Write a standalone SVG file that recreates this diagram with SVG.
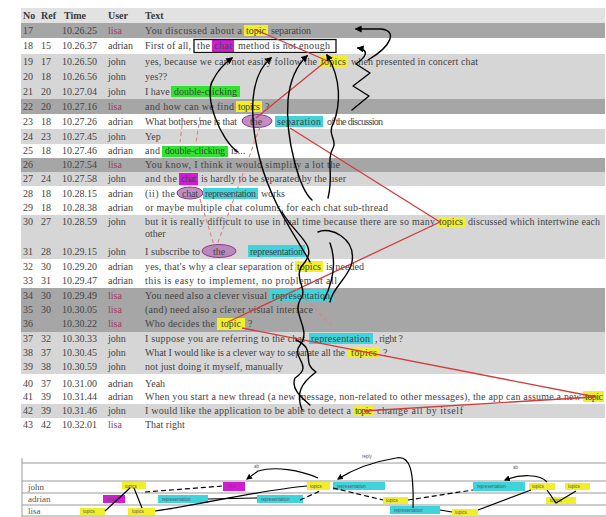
<svg xmlns="http://www.w3.org/2000/svg" width="606" height="517" viewBox="0 0 606 517">
<defs>
<marker id="ah" viewBox="0 0 10 10" refX="8" refY="5" markerWidth="5" markerHeight="5" orient="auto"><path d="M0,0 L10,5 L0,10 z" fill="#000"/></marker>
<style>
.t{font-family:"Liberation Serif",serif;font-size:10px;fill:#444}
.h{font-family:"Liberation Serif",serif;font-size:10px;font-weight:bold;fill:#3a3a3a}
.lisa{fill:#a04060}
.dk{fill:#a6a6a6}.lt{fill:#d6d6d6}.wh{fill:#fff}
.y{fill:#f2ee2a}.m{fill:#d21cd2}.c{fill:#3fd4dc}.g{fill:#2ee42e}
.el{fill:#b77ab7;stroke:#8a3a8a;stroke-width:1;fill-opacity:.85}
.blk{fill:none;stroke:#000;stroke-width:1.4;stroke-linecap:round;stroke-linejoin:round}
.red{fill:none;stroke:#d23c3c;stroke-width:1.3}
.pd{fill:none;stroke:#e08080;stroke-width:1.1;stroke-dasharray:4 3}
.ln{stroke:#9a9a9a;stroke-width:1}
.lab{font-family:"Liberation Serif",serif;font-size:9px;fill:#555}
.tiny{font-family:"Liberation Sans",sans-serif;font-size:4.5px;fill:#556}
.cl{fill:none;stroke:#000;stroke-width:1.2}
.cd{fill:none;stroke:#000;stroke-width:1.2;stroke-dasharray:5 3}
</style>
</defs>
<rect width="606" height="517" fill="#fff"/>
<g id="table">
<rect x="21" y="8" width="584" height="15" fill="#e2e2e2"/>
<text class="h" x="23" y="19">No</text><text class="h" x="41" y="19">Ref</text><text class="h" x="64" y="19">Time</text><text class="h" x="108" y="19">User</text><text class="h" x="145" y="19">Text</text>
</g>
<g id="rows">
<g id="msg-17"><rect class="dk" x="21" y="23" width="584" height="15"/><text class="t" y="34"><tspan x="23">17</tspan><tspan x="62">10.26.25</tspan><tspan x="108" class="lisa">lisa</tspan></text><rect class="y" x="244" y="25" width="24" height="11"/><text class="t" y="34"><tspan x="145" textLength="97" lengthAdjust="spacing">You discussed about a</tspan><tspan x="246" textLength="20" lengthAdjust="spacing">topic</tspan><tspan x="271" textLength="40" lengthAdjust="spacing">separation</tspan></text></g>
<g id="msg-18"><rect class="wh" x="21" y="38" width="584" height="16"/><text class="t" y="49"><tspan x="23">18</tspan><tspan x="41">15</tspan><tspan x="62">10.26.37</tspan><tspan x="108">adrian</tspan></text><rect class="m" x="212" y="40" width="22" height="12"/><text class="t" y="49"><tspan x="145" textLength="46" lengthAdjust="spacing">First of all,</tspan><tspan x="197" textLength="13" lengthAdjust="spacing">the</tspan><tspan x="214" textLength="18" lengthAdjust="spacing">chat</tspan><tspan x="238" textLength="92" lengthAdjust="spacing">method is not enough</tspan></text><rect x="194" y="39.5" width="142" height="13" fill="none" stroke="#111" stroke-width="1.3"/></g>
<g id="msg-19"><rect class="lt" x="21" y="54" width="584" height="15"/><text class="t" y="65"><tspan x="23">19</tspan><tspan x="41">17</tspan><tspan x="62">10.26.50</tspan><tspan x="108">john</tspan></text><rect class="y" x="319" y="56" width="29" height="12"/><text class="t" y="65"><tspan x="145" textLength="172" lengthAdjust="spacing">yes, because we can not easily follow the</tspan><tspan x="321" textLength="25" lengthAdjust="spacing">topics</tspan><tspan x="351" textLength="127" lengthAdjust="spacing">when presented in concert chat</tspan></text></g>
<g id="msg-20"><rect class="lt" x="21" y="69" width="584" height="15"/><text class="t" y="80"><tspan x="23">20</tspan><tspan x="41">18</tspan><tspan x="62">10.26.56</tspan><tspan x="108">john</tspan><tspan x="145">yes??</tspan></text></g>
<g id="msg-21"><rect class="lt" x="21" y="84" width="584" height="15"/><text class="t" y="95"><tspan x="23">21</tspan><tspan x="41">20</tspan><tspan x="62">10.27.04</tspan><tspan x="108">john</tspan></text><rect class="g" x="171" y="86" width="69" height="11"/><text class="t" y="95"><tspan x="145">I have</tspan><tspan x="174" textLength="63" lengthAdjust="spacing">double-clicking</tspan></text></g>
<g id="msg-22"><rect class="dk" x="21" y="99" width="584" height="15"/><text class="t" y="110"><tspan x="23">22</tspan><tspan x="41">20</tspan><tspan x="62">10.27.16</tspan><tspan x="108" class="lisa">lisa</tspan></text><rect class="y" x="236" y="101" width="26" height="11"/><text class="t" y="110"><tspan x="145" textLength="89" lengthAdjust="spacing">and how can we find</tspan><tspan x="238" textLength="22" lengthAdjust="spacing">topics</tspan><tspan x="265">?</tspan></text></g>
<g id="msg-23"><rect class="wh" x="21" y="114" width="584" height="15"/><text class="t" y="125"><tspan x="23">23</tspan><tspan x="41">18</tspan><tspan x="62">10.27.26</tspan><tspan x="108">adrian</tspan></text><ellipse class="el" cx="257" cy="121" rx="15" ry="6.5"/><rect class="c" x="275" y="116" width="48" height="11"/><text class="t" y="125"><tspan x="145" textLength="92" lengthAdjust="spacing">What bothers me is that</tspan><tspan x="250">the</tspan><tspan x="277" textLength="44" lengthAdjust="spacing">separation</tspan><tspan x="327" textLength="56" lengthAdjust="spacing">of the discussion</tspan></text></g>
<g id="msg-24"><rect class="lt" x="21" y="129" width="584" height="15"/><text class="t" y="140"><tspan x="23">24</tspan><tspan x="41">23</tspan><tspan x="62">10.27.45</tspan><tspan x="108">john</tspan><tspan x="145">Yep</tspan></text></g>
<g id="msg-25"><rect class="wh" x="21" y="144" width="584" height="14"/><text class="t" y="154"><tspan x="23">25</tspan><tspan x="41">18</tspan><tspan x="62">10.27.46</tspan><tspan x="108">adrian</tspan></text><rect class="g" x="162" y="146" width="66" height="11"/><text class="t" y="154"><tspan x="145" textLength="15" lengthAdjust="spacing">and</tspan><tspan x="165" textLength="60" lengthAdjust="spacing">double-clicking</tspan><tspan x="231">is...</tspan></text></g>
<g id="msg-26"><rect class="dk" x="21" y="158" width="584" height="14"/><text class="t" y="168"><tspan x="23">26</tspan><tspan x="62">10.27.54</tspan><tspan x="108" class="lisa">lisa</tspan><tspan x="145" textLength="195" lengthAdjust="spacing">You know, I think it would simplify a lot the</tspan></text></g>
<g id="msg-27"><rect class="lt" x="21" y="172" width="584" height="14"/><text class="t" y="182"><tspan x="23">27</tspan><tspan x="41">24</tspan><tspan x="62">10.27.58</tspan><tspan x="108">john</tspan></text><rect class="m" x="179" y="173" width="19" height="12"/><text class="t" y="182"><tspan x="145" textLength="32" lengthAdjust="spacing">and the</tspan><tspan x="181" textLength="15" lengthAdjust="spacing">chat</tspan><tspan x="201" textLength="145" lengthAdjust="spacing">is hardly to be separated by the user</tspan></text></g>
<g id="msg-28"><rect class="wh" x="21" y="186" width="584" height="15"/><text class="t" y="197"><tspan x="23">28</tspan><tspan x="41">18</tspan><tspan x="62">10.28.15</tspan><tspan x="108">adrian</tspan></text><ellipse class="el" cx="190" cy="193" rx="13" ry="6"/><rect class="c" x="203" y="188" width="55" height="11"/><text class="t" y="197"><tspan x="145" textLength="30" lengthAdjust="spacing">(ii) the</tspan><tspan x="182" textLength="16" lengthAdjust="spacing">chat</tspan><tspan x="205" textLength="51" lengthAdjust="spacing">representation</tspan><tspan x="261" textLength="24" lengthAdjust="spacing">works</tspan></text></g>
<g id="msg-29"><rect class="wh" x="21" y="201" width="584" height="14"/><text class="t" y="211"><tspan x="23">29</tspan><tspan x="41">18</tspan><tspan x="62">10.28.38</tspan><tspan x="108">adrian</tspan><tspan x="145" textLength="243" lengthAdjust="spacing">or maybe multiple chat columns, for each chat sub-thread</tspan></text></g>
<g id="msg-30"><rect class="lt" x="21" y="215" width="584" height="27"/><text class="t" y="225"><tspan x="23">30</tspan><tspan x="41">27</tspan><tspan x="62">10.28.59</tspan><tspan x="108">john</tspan></text><rect class="y" x="437" y="217" width="28" height="11"/><text class="t" y="225"><tspan x="145" textLength="290" lengthAdjust="spacing">but it is really difficult to use in real time because there are so many</tspan><tspan x="439" textLength="24" lengthAdjust="spacing">topics</tspan><tspan x="468" textLength="132" lengthAdjust="spacing">discussed which intertwine each</tspan><tspan x="145" y="237">other</tspan></text></g>
<g id="msg-31"><rect class="lt" x="21" y="242" width="584" height="17"/><text class="t" y="255"><tspan x="23">31</tspan><tspan x="41">28</tspan><tspan x="62">10.29.15</tspan><tspan x="108">john</tspan></text><ellipse class="el" cx="219" cy="251" rx="17" ry="6.5"/><rect class="c" x="248" y="245" width="57" height="12"/><text class="t" y="255"><tspan x="145" textLength="55" lengthAdjust="spacing">I subscribe to</tspan><tspan x="213">the</tspan><tspan x="250" textLength="53" lengthAdjust="spacing">representation</tspan></text></g>
<g id="msg-32"><rect class="wh" x="21" y="259" width="584" height="15"/><text class="t" y="270"><tspan x="23">32</tspan><tspan x="41">30</tspan><tspan x="62">10.29.20</tspan><tspan x="108">adrian</tspan></text><rect class="y" x="295" y="261" width="28" height="11"/><text class="t" y="270"><tspan x="145" textLength="148" lengthAdjust="spacing">yes, that's why a clear separation of</tspan><tspan x="297" textLength="24" lengthAdjust="spacing">topics</tspan><tspan x="326" textLength="38" lengthAdjust="spacing">is needed</tspan></text></g>
<g id="msg-33"><rect class="wh" x="21" y="274" width="584" height="14"/><text class="t" y="284"><tspan x="23">33</tspan><tspan x="41">31</tspan><tspan x="62">10.29.47</tspan><tspan x="108">adrian</tspan><tspan x="145" textLength="192" lengthAdjust="spacing">this is easy to implement, no problem at all</tspan></text></g>
<g id="msg-34"><rect class="dk" x="21" y="288" width="584" height="15"/><text class="t" y="299"><tspan x="23">34</tspan><tspan x="41">30</tspan><tspan x="62">10.29.49</tspan><tspan x="108" class="lisa">lisa</tspan></text><rect class="c" x="270" y="290" width="63" height="11"/><text class="t" y="299"><tspan x="145" textLength="122" lengthAdjust="spacing">You need also a clever visual</tspan><tspan x="272" textLength="58" lengthAdjust="spacing">representation</tspan></text></g>
<g id="msg-35"><rect class="dk" x="21" y="303" width="584" height="14"/><text class="t" y="313"><tspan x="23">35</tspan><tspan x="41">30</tspan><tspan x="62">10.30.05</tspan><tspan x="108" class="lisa">lisa</tspan><tspan x="145" textLength="168" lengthAdjust="spacing">(and) need also a clever visual interface</tspan></text></g>
<g id="msg-36"><rect class="dk" x="21" y="317" width="584" height="15"/><text class="t" y="327"><tspan x="23">36</tspan><tspan x="62">10.30.22</tspan><tspan x="108" class="lisa">lisa</tspan></text><rect class="y" x="217" y="318" width="28" height="12"/><text class="t" y="327"><tspan x="145" textLength="70" lengthAdjust="spacing">Who decides the</tspan><tspan x="221" textLength="20" lengthAdjust="spacing">topic</tspan><tspan x="248">?</tspan></text></g>
<g id="msg-37"><rect class="lt" x="21" y="332" width="584" height="14"/><text class="t" y="342"><tspan x="23">37</tspan><tspan x="41">32</tspan><tspan x="62">10.30.33</tspan><tspan x="108">john</tspan></text><rect class="c" x="309" y="333" width="64" height="11"/><text class="t" y="342"><tspan x="145" textLength="160" lengthAdjust="spacing">I suppose you are referring to the chat</tspan><tspan x="311" textLength="59" lengthAdjust="spacing">representation</tspan><tspan x="375" textLength="28" lengthAdjust="spacing">, right ?</tspan></text></g>
<g id="msg-38"><rect class="lt" x="21" y="346" width="584" height="14"/><text class="t" y="356"><tspan x="23">38</tspan><tspan x="41">37</tspan><tspan x="62">10.30.45</tspan><tspan x="108">john</tspan></text><rect class="y" x="348" y="347" width="32" height="11"/><text class="t" y="356"><tspan x="145" textLength="200" lengthAdjust="spacing">What I would like is a clever way to separate all the</tspan><tspan x="351" textLength="26" lengthAdjust="spacing">topics</tspan><tspan x="383">?</tspan></text></g>
<g id="msg-39"><rect class="lt" x="21" y="360" width="584" height="14"/><text class="t" y="370"><tspan x="23">39</tspan><tspan x="41">38</tspan><tspan x="62">10.30.59</tspan><tspan x="108">john</tspan><tspan x="145" textLength="138" lengthAdjust="spacing">not just doing it myself, manually</tspan></text></g>
<g id="msg-40"><rect class="wh" x="21" y="374" width="584" height="16"/><text class="t" y="387"><tspan x="23">40</tspan><tspan x="41">37</tspan><tspan x="62">10.31.00</tspan><tspan x="108">adrian</tspan><tspan x="145">Yeah</tspan></text></g>
<g id="msg-41"><rect class="wh" x="21" y="390" width="584" height="14"/><text class="t" y="400"><tspan x="23">41</tspan><tspan x="41">39</tspan><tspan x="62">10.31.44</tspan><tspan x="108">adrian</tspan></text><rect class="y" x="583" y="391" width="21" height="11"/><text class="t" y="400"><tspan x="145" textLength="436" lengthAdjust="spacing">When you start a new thread (a new message, non-related to other messages), the app can assume a new</tspan><tspan x="585" textLength="18" lengthAdjust="spacing">topic</tspan></text></g>
<g id="msg-42"><rect class="lt" x="21" y="404" width="584" height="14"/><text class="t" y="414"><tspan x="23">42</tspan><tspan x="41">39</tspan><tspan x="62">10.31.46</tspan><tspan x="108">john</tspan></text><rect class="y" x="353" y="405" width="21" height="11"/><text class="t" y="414"><tspan x="145" textLength="206" lengthAdjust="spacing">I would like the application to be able to detect a</tspan><tspan x="355" textLength="17" lengthAdjust="spacing">topic</tspan><tspan x="377" textLength="86" lengthAdjust="spacing">change all by itself</tspan></text></g>
<g id="msg-43"><rect class="wh" x="21" y="418" width="584" height="14"/><text class="t" y="428"><tspan x="23">43</tspan><tspan x="41">42</tspan><tspan x="62">10.32.01</tspan><tspan x="108" class="lisa">lisa</tspan><tspan x="145">That right</tspan></text></g>
</g>
<g id="connectors">
<path class="red" d="M256,30 L330,62"/>
<path class="red" d="M325,62 L256,118"/>
<path class="red" d="M290,128 L440,222"/>
<path class="red" d="M440,222 L228,322"/>
<path class="red" d="M242,328 L596,397"/>
<path class="red" d="M594,397 L364,411"/>
<path class="pd" d="M260,127 L217,245"/>
<path class="pd" d="M200,199 L214,245"/>
<path class="pd" d="M183,118 L180,142"/>
<path class="pd" d="M200,117 L196,142"/>
<path class="pd" d="M290,283 L332,326"/>
<path class="blk" marker-end="url(#ah)" d="M368,60 C392,46 398,30 380,29 L356,29"/>
<path class="blk" marker-end="url(#ah)" d="M352,110 L369,96 L353,86 L370,73 L356,64 C366,57 370,50 358,48"/>
<path class="blk" marker-end="url(#ah)" d="M238,152 C220,140 203,95 213,80 C218,70 225,63 232,58"/>
<path class="blk" marker-end="url(#ah)" d="M310,262 C295,235 272,205 260,160 C248,115 250,75 271,58"/>
<path class="blk" marker-end="url(#ah)" d="M312,200 C300,190 285,140 288,100 C290,80 296,66 307,56"/>
<path class="blk" marker-end="url(#ah)" d="M328,198 C334,175 326,160 333,148 C338,140 326,135 334,122 C340,105 342,80 327,55"/>
<path class="blk" d="M282,212 C295,235 318,245 305,262 C290,278 310,288 300,300 C292,315 312,330 300,345 C290,358 315,365 295,378 C290,390 305,400 310,405"/>
<path class="blk" d="M318,232 C330,226 356,238 352,262 C350,276 332,288 330,302"/>
<path class="blk" d="M296,340 C318,350 300,362 316,372 C300,384 296,394 302,410"/>
<path class="blk" d="M330,243 C336,260 334,280 324,300"/>
</g>
<g id="chart">
<line class="ln" x1="22" y1="463" x2="606" y2="463"/>
<line class="ln" x1="22" y1="481" x2="606" y2="481"/>
<line class="ln" x1="22" y1="493" x2="606" y2="493"/>
<line class="ln" x1="22" y1="505" x2="606" y2="505"/>
<line class="ln" x1="22" y1="516" x2="606" y2="516"/>
<line class="ln" x1="22" y1="458" x2="22" y2="517"/>
<text class="lab" x="28" y="490">john</text>
<text class="lab" x="28" y="502">adrian</text>
<text class="lab" x="28" y="514">lisa</text>
<g id="lane-john">
<rect class="y" x="122" y="482" width="24" height="7"/><text class="tiny" x="125" y="487.5">topics</text>
<rect class="m" x="223" y="482" width="22" height="9"/><text class="tiny" x="227" y="488">chat</text>
<rect class="y" x="307" y="482" width="23" height="8"/><text class="tiny" x="310" y="488">topics</text>
<rect class="c" x="333" y="482" width="52" height="8"/><text class="tiny" x="337" y="488">representation</text>
<rect class="c" x="473" y="482" width="52" height="9"/><text class="tiny" x="477" y="488">representation</text>
<rect class="y" x="529" y="483" width="26" height="7"/><text class="tiny" x="532" y="488">topics</text>
<rect class="y" x="565" y="483" width="25" height="7"/><text class="tiny" x="568" y="488">topics</text>
</g>
<g id="lane-adrian">
<rect class="m" x="103" y="495" width="22" height="8"/><text class="tiny" x="107" y="500.5">chat</text>
<rect class="c" x="158" y="495" width="50" height="8"/><text class="tiny" x="162" y="500.5">representation</text>
<rect class="c" x="257" y="495" width="46" height="8"/><text class="tiny" x="261" y="500.5">representation</text>
<rect class="y" x="383" y="497" width="25" height="7"/><text class="tiny" x="386" y="502">topics</text>
<rect class="y" x="546" y="497" width="30" height="7"/><text class="tiny" x="550" y="502">topics</text>
</g>
<g id="lane-lisa">
<rect class="y" x="80" y="508" width="25" height="7"/><text class="tiny" x="83" y="513">topics</text>
<rect class="y" x="128" y="508" width="27" height="7"/><text class="tiny" x="132" y="513">topics</text>
<rect class="c" x="390" y="506" width="50" height="8"/><text class="tiny" x="394" y="511.5">representation</text>
<rect class="y" x="452" y="509" width="26" height="7"/><text class="tiny" x="455" y="514">topics</text>
</g>
<g id="chart-connectors">
<path class="cl" d="M105,511 L130,488"/>
<path class="cl" d="M134,488 L142,508"/>
<path class="cl" d="M155,511 C200,505 260,490 307,486"/>
<path class="cd" d="M145,492 L223,486"/>
<path class="cl" d="M208,499 L257,498"/>
<path class="cd" d="M300,500 L320,491"/>
<path class="cd" d="M333,488 L383,500"/>
<path class="cd" d="M408,500 L473,490"/>
<path class="cl" d="M440,510 L452,512"/>
<path class="cl" d="M478,510 L531,490"/>
<path class="cl" d="M547,490 L556,503 L576,491"/>
<path class="cl" marker-end="url(#ah)" d="M318,478 C300,470 275,466 258,471 L247,479"/>
<path class="cl" marker-end="url(#ah)" d="M413,508 C414,470 410,455 396,458 C372,462 352,470 338,479"/>
<path class="cl" marker-end="url(#ah)" d="M547,482 C540,474 520,474 505,480"/>
<text class="tiny" x="254" y="468">ab</text>
<text class="tiny" x="362" y="458">reply</text>
<text class="tiny" x="513" y="469">ab</text>
</g>
</g>
</svg>
